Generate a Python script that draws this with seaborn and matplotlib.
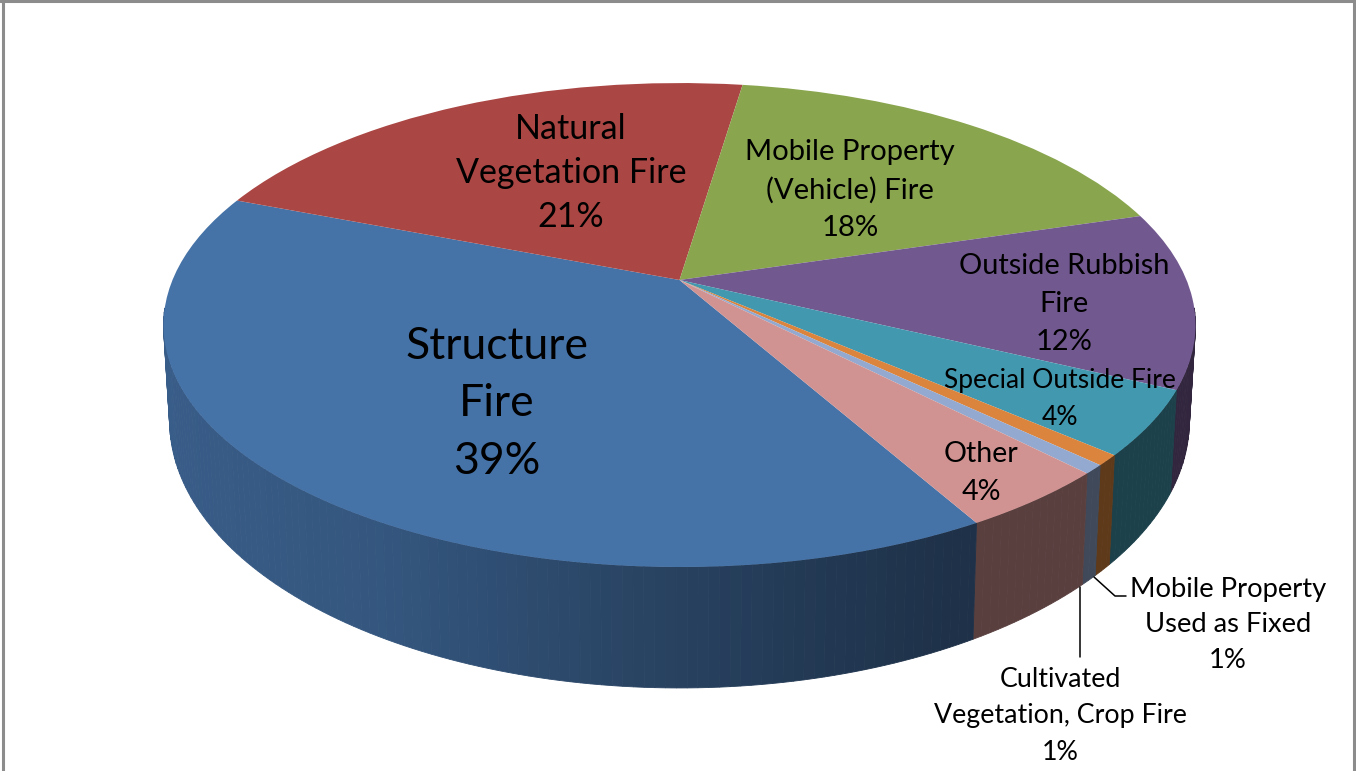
import numpy as np
import seaborn as sns
from matplotlib import pyplot as plt
from matplotlib.transforms import Transform

categories = ['Structure\nFire', 'Natural\nVegetation Fire', 'Mobile Property\n(Vehicle) Fire',
              'Outside Rubbish\nFire', 'Special Outside Fire', 'Mobile Property\nUsed as Fixed',
              'Cultivated\nVegetation, Crop Fire', 'Other']
values = [39.1, 21.45, 18.0, 11.8, 4.3, 0.7, 0.6, 4.1]
hex_colors = ['#4572A7', '#AA4643', '#89A54E', '#71588F', '#4198AF', '#DB843D', '#93A9CF', '#D19392']

# label centre in pixels, font size in px and line spacing, same order as categories
label_x = [497, 571, 850, 1064, 1060, 1228, 1060, 981]
label_y = [404, 173, 190, 304, 399, 625, 716, 473]
label_px = [44.5, 34, 29.2, 29, 26.4, 27.4, 26.8, 28.6]
label_ls = [1.5, 1.48, 1.55, 1.59, 1.56, 1.54, 1.56, 1.59]

sns.set_theme(style='white')
plt.rcParams['font.family'] = ['Lato', 'DejaVu Sans']
palette = sns.color_palette(hex_colors)

# perspective of the disc, top face and bottom face
TILT = 0.186


class Disc(Transform):
    input_dims = 2
    output_dims = 2

    def __init__(self, cy, ax_, by):
        super().__init__()
        self.cy, self.ax_, self.by = cy, ax_, by

    def transform_non_affine(self, xy):
        xy = np.asarray(xy, dtype=float)
        w = 1 + TILT * xy[:, 1]
        return np.column_stack([679.5 + self.ax_ * xy[:, 0] / w, self.cy - self.by * xy[:, 1] / w])


top = Disc(280, 507, 233.6)
bottom = Disc(371, 501, 258)

fig = plt.figure(figsize=(13.56, 7.71), dpi=100)
ax = fig.add_axes([0, 0, 1, 1])
wedges, _ = ax.pie(values, colors=palette, startangle=-60.6, counterclock=False, normalize=True,
                   wedgeprops=dict(linewidth=0))
ax.set_aspect('auto')
ax.set_xlim(0, 1356)
ax.set_ylim(771, 0)
ax.set_xticks([])
ax.set_yticks([])
for s in ax.spines.values():
    s.set_visible(False)

# side wall, one thin strip per degree, darker towards the right
strips = []
for w, c in zip(wedges, palette):
    edges = np.arange(w.theta1, w.theta2, 1.0)
    edges = np.append(edges, w.theta2)
    for a, b in zip(edges[:-1], edges[1:]):
        t = np.radians(np.linspace(a, b, 3))
        u, v = np.cos(t), np.sin(t)
        if v.mean() < -0.12:
            strips.append((v.mean(), u.mean(), u, v, c))
strips.sort(key=lambda r: -r[0])
for _, um, u, v, c in strips:
    pts = np.column_stack([u, v])
    p1 = top.transform(pts)
    p2 = bottom.transform(pts)[::-1]
    poly = np.vstack([p1, p2])
    shade = np.interp(um, [-1, -0.5, 0, 0.45, 1], [0.82, 0.76, 0.57, 0.43, 0.43])
    col = tuple(np.array(c) * shade)
    ax.fill(poly[:, 0], poly[:, 1], color=col, lw=0.6, zorder=1)

for w in wedges:
    w.set_transform(top + ax.transData)
    w.set_zorder(2)

for name, val, x, y, px, ls in zip(categories, values, label_x, label_y, label_px, label_ls):
    ax.text(x, y, f'{name}\n{val / sum(values):.0%}', ha='center', va='center',
            fontsize=px * 0.72, color='black', linespacing=ls, zorder=3)

# leader lines of the two thin slices
ax.plot([1080, 1080], [587, 657], color='black', lw=1.1, zorder=3)
ax.plot([1094, 1115, 1126], [577, 596, 596], color='black', lw=1.1, zorder=3)

# chart frame, bottom edge is cut off
ax.axhline(1, color='#8c8c8c', lw=2.2, zorder=4)
ax.axvline(2.5, color='#8c8c8c', lw=2.2, zorder=4)
ax.axvline(1354, color='#8c8c8c', lw=2.2, zorder=4)

plt.savefig('out.png', dpi=100)
